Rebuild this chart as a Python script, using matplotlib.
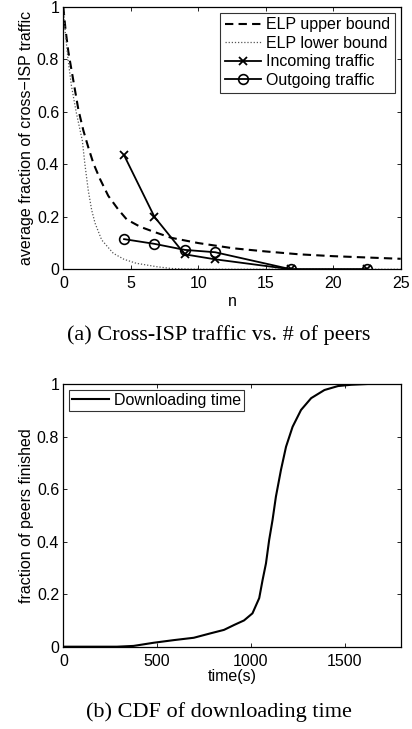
import matplotlib
matplotlib.use("Agg")
import matplotlib.pyplot as plt
from matplotlib.ticker import FuncFormatter

# ---- data: panel (a) ----
upper_n = [0, 0.15, 0.37, 0.74, 1.11, 1.48, 1.85, 2.22, 2.71, 3.33, 4.07, 4.7, 5.7, 6.7, 8, 10, 12.6, 15, 17.5, 20, 25]
upper_v = [1.0, 0.92, 0.83, 0.72, 0.61, 0.53, 0.465, 0.405, 0.345, 0.28, 0.228, 0.19, 0.162, 0.143, 0.12, 0.1, 0.08, 0.068, 0.057, 0.05, 0.04]
lower_n = [0, 0.15, 0.35, 0.6, 0.95, 1.2, 1.41, 1.6, 1.85, 2.1, 2.35, 2.84, 3.7, 4.5, 5.4, 6.9, 8, 10, 25]
lower_v = [1.0, 0.9, 0.8, 0.7, 0.6, 0.54, 0.49, 0.4, 0.3, 0.226, 0.176, 0.112, 0.061, 0.038, 0.023, 0.01, 0.003, 0.0, 0.0]
peer_n = [4.5, 6.75, 9.0, 11.25, 16.875, 22.5]
incoming = [0.435, 0.2, 0.057, 0.038, 0.0, 0.0]
outgoing = [0.115, 0.097, 0.074, 0.065, 0.0, 0.0]

# ---- data: panel (b) ----
dl_time = [0, 286, 375, 482, 589, 696, 786, 857, 912, 964, 1009, 1045, 1063, 1081, 1098, 1116,
           1134, 1161, 1188, 1223, 1268, 1322, 1393, 1465, 1536, 1625, 1800]
dl_frac = [0, 0, 0.003, 0.015, 0.025, 0.034, 0.051, 0.064, 0.083, 0.1, 0.127, 0.185, 0.254, 0.317,
           0.406, 0.482, 0.571, 0.673, 0.761, 0.837, 0.901, 0.946, 0.977, 0.992, 0.997, 1.0, 1.0]

sans = ["Liberation Sans", "DejaVu Sans"]
serif = ["Liberation Serif", "DejaVu Serif"]
plt.rcParams["font.family"] = sans
FS = 11.5

fig = plt.figure(figsize=(4.12, 7.29), dpi=100)

def fmt(v, pos):
    return "%g" % round(v, 6)

def style(ax):
    ax.tick_params(direction="in", top=True, right=True, length=3, width=0.6,
                   labelsize=FS)
    ax.tick_params(axis="x", pad=5)
    ax.tick_params(axis="y", pad=3)
    for sp in ax.spines.values():
        sp.set_linewidth(0.9)
    ax.yaxis.set_major_formatter(FuncFormatter(fmt))
    ax.xaxis.set_major_formatter(FuncFormatter(fmt))

# ---- panel (a) ----
ax1 = fig.add_axes([0.1537, 0.6306, 0.819, 0.3598])
ax1.plot(upper_n, upper_v, color="black", lw=1.5, ls=(0, (4, 2.5)), label="ELP upper bound")
ax1.plot(lower_n, lower_v, color="#555555", lw=0.9, ls=(0, (1, 1.5)), label="ELP lower bound")
ax1.plot(peer_n, incoming, color="black", lw=1.3, marker="x", ms=6, mew=1.3, label="Incoming traffic")
ax1.plot(peer_n, outgoing, color="black", lw=1.3, marker="o", ms=7, mew=1.2, mfc="none", label="Outgoing traffic")
ax1.set_xlim(0, 25)
ax1.set_ylim(0, 1)
ax1.set_xticks([0, 5, 10, 15, 20, 25])
ax1.set_yticks([0, 0.2, 0.4, 0.6, 0.8, 1])
style(ax1)
ax1.set_xlabel("n", fontsize=FS, labelpad=2)
ax1.set_ylabel("average fraction of cross−ISP traffic", fontsize=FS, labelpad=2)
leg1 = ax1.legend(loc="upper right", fontsize=FS, frameon=True, fancybox=False, edgecolor="black",
                  borderpad=0.3, labelspacing=0.22, handlelength=2.3, handletextpad=0.3,
                  borderaxespad=0.35)
leg1.get_frame().set_linewidth(0.8)

fig.text(0.532, 0.5405, "(a) Cross-ISP traffic vs. # of peers", ha="center", va="center",
         fontsize=16, family=serif)

# ---- panel (b) ----
ax2 = fig.add_axes([0.1537, 0.1129, 0.819, 0.3604])
ax2.plot(dl_time, dl_frac, color="black", lw=1.5, label="Downloading time")
ax2.set_xlim(0, 1800)
ax2.set_ylim(0, 1)
ax2.set_xticks([0, 500, 1000, 1500])
ax2.set_yticks([0, 0.2, 0.4, 0.6, 0.8, 1])
style(ax2)
ax2.set_xlabel("time(s)", fontsize=FS, labelpad=0)
ax2.set_ylabel("fraction of peers finished", fontsize=FS, labelpad=2)
leg2 = ax2.legend(loc="upper left", fontsize=FS, frameon=True, fancybox=False, edgecolor="black",
                  borderpad=0.2, handlelength=2.3, handletextpad=0.3, borderaxespad=0.35)
leg2.get_frame().set_linewidth(0.8)

fig.text(0.532, 0.0229, "(b) CDF of downloading time", ha="center", va="center",
         fontsize=16, family=serif)

fig.savefig("out.png", dpi=100)
